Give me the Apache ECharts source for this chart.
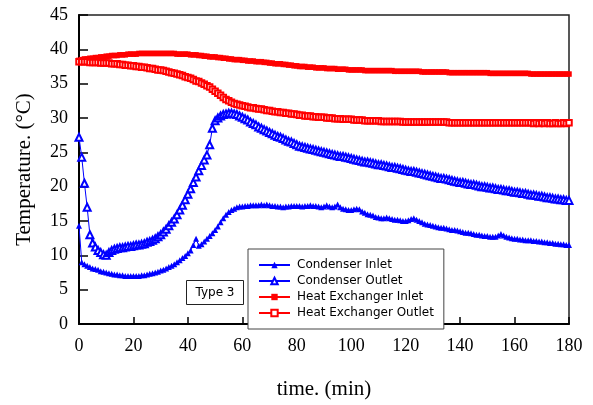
<!DOCTYPE html>
<html>
<head>
<meta charset="utf-8">
<script src="https://cdn.jsdelivr.net/npm/echarts@6/dist/echarts.min.js"></script>
<style>html,body{margin:0;padding:0;background:#fff}#c{width:593px;height:405px}</style>
</head>
<body>
<div id="c"></div>
<script>
// Time in minutes (1-minute sampling, 0..180)
const timeMin = Array.from({length: 181}, (_, i) => i);

const condenserInlet = [
14.3,9.0,8.7,8.5,8.3,8.1,8.0,7.9,7.7,7.6,
7.5,7.4,7.3,7.2,7.2,7.1,7.1,7.0,7.0,7.0,
7.0,7.0,7.0,7.1,7.1,7.2,7.3,7.4,7.5,7.6,
7.8,7.9,8.1,8.3,8.5,8.7,9.0,9.3,9.6,9.9,
10.3,10.7,11.5,12.4,11.4,11.6,12.0,12.4,12.8,13.2,
13.7,14.2,14.8,15.4,15.9,16.3,16.6,16.8,17.0,17.1,
17.1,17.2,17.2,17.3,17.3,17.3,17.3,17.4,17.3,17.4,
17.3,17.2,17.2,17.1,17.1,17.0,17.1,17.1,17.2,17.2,
17.2,17.2,17.1,17.2,17.2,17.3,17.2,17.2,17.1,17.0,
17.1,17.3,17.1,17.0,17.1,17.4,17.0,16.8,16.7,16.6,
16.6,16.7,16.8,16.7,16.4,16.2,16.0,15.9,15.8,15.6,
15.5,15.4,15.4,15.5,15.4,15.3,15.2,15.2,15.1,15.0,
15.0,15.1,15.3,15.4,15.2,15.0,14.8,14.6,14.5,14.4,
14.3,14.2,14.1,14.0,14.0,13.9,13.8,13.7,13.7,13.6,
13.5,13.4,13.3,13.3,13.2,13.1,13.0,13.0,12.9,12.8,
12.8,12.7,12.7,12.7,12.9,13.1,12.9,12.7,12.6,12.5,
12.4,12.4,12.3,12.3,12.2,12.2,12.2,12.1,12.1,12.0,
12.0,11.9,11.9,11.8,11.8,11.7,11.7,11.6,11.6,11.5,
11.5
];

const condenserOutlet = [
27.2,24.3,20.5,17.0,13.0,11.8,11.2,10.7,10.4,10.1,
10.0,10.4,10.7,10.9,11.0,11.1,11.1,11.2,11.3,11.3,
11.4,11.5,11.5,11.6,11.7,11.9,12.0,12.2,12.4,12.7,
13.0,13.4,13.8,14.3,14.8,15.3,15.9,16.6,17.3,18.1,
18.9,19.7,20.6,21.4,22.3,23.1,23.9,24.6,26.1,28.5,
29.6,30.0,30.3,30.5,30.6,30.7,30.7,30.6,30.5,30.3,
30.1,29.9,29.7,29.4,29.2,29.0,28.7,28.5,28.3,28.1,
27.9,27.7,27.5,27.3,27.2,27.0,26.8,26.6,26.5,26.3,
26.1,25.9,25.8,25.7,25.6,25.5,25.4,25.3,25.2,25.1,
25.0,24.9,24.8,24.7,24.6,24.5,24.4,24.4,24.3,24.2,
24.1,24.0,23.9,23.8,23.7,23.6,23.6,23.5,23.4,23.3,
23.2,23.2,23.1,23.0,22.9,22.8,22.8,22.7,22.6,22.5,
22.4,22.3,22.2,22.2,22.1,22.0,21.9,21.8,21.7,21.6,
21.5,21.4,21.3,21.2,21.2,21.1,21.0,20.9,20.8,20.7,
20.6,20.6,20.5,20.4,20.3,20.3,20.2,20.1,20.0,20.0,
19.9,19.8,19.8,19.7,19.6,19.6,19.5,19.4,19.4,19.3,
19.2,19.2,19.1,19.0,19.0,18.9,18.8,18.8,18.7,18.6,
18.6,18.5,18.4,18.4,18.3,18.2,18.2,18.1,18.1,18.0,
18.0
];

const heatExInlet = [
38.4,38.5,38.6,38.6,38.7,38.7,38.8,38.8,38.9,38.9,
39.0,39.0,39.1,39.1,39.1,39.2,39.2,39.2,39.3,39.3,
39.3,39.3,39.4,39.4,39.4,39.4,39.4,39.4,39.4,39.4,
39.4,39.4,39.4,39.4,39.4,39.4,39.3,39.3,39.3,39.3,
39.3,39.2,39.2,39.2,39.1,39.1,39.0,39.0,38.9,38.9,
38.9,38.8,38.8,38.7,38.7,38.6,38.6,38.5,38.5,38.5,
38.4,38.4,38.3,38.3,38.3,38.2,38.2,38.2,38.1,38.1,
38.0,38.0,37.9,37.9,37.9,37.8,37.8,37.7,37.7,37.6,
37.6,37.5,37.5,37.5,37.4,37.4,37.4,37.3,37.3,37.3,
37.3,37.2,37.2,37.2,37.2,37.1,37.1,37.1,37.1,37.0,
37.0,37.0,37.0,37.0,37.0,36.9,36.9,36.9,36.9,36.9,
36.9,36.9,36.9,36.9,36.9,36.9,36.8,36.8,36.8,36.8,
36.8,36.8,36.8,36.8,36.8,36.8,36.7,36.7,36.7,36.7,
36.7,36.7,36.7,36.7,36.7,36.7,36.6,36.6,36.6,36.6,
36.6,36.6,36.6,36.6,36.6,36.6,36.6,36.6,36.6,36.6,
36.6,36.5,36.5,36.5,36.5,36.5,36.5,36.5,36.5,36.5,
36.5,36.5,36.5,36.5,36.5,36.5,36.4,36.4,36.4,36.4,
36.4,36.4,36.4,36.4,36.4,36.4,36.4,36.4,36.4,36.4,
36.4
];

const heatExOutlet = [
38.2,38.2,38.2,38.2,38.1,38.1,38.1,38.1,38.0,38.0,
38.0,38.0,37.9,37.9,37.9,37.8,37.8,37.7,37.7,37.6,
37.6,37.5,37.5,37.4,37.4,37.3,37.2,37.2,37.1,37.0,
37.0,36.9,36.8,36.7,36.6,36.5,36.4,36.3,36.2,36.0,
35.9,35.8,35.6,35.4,35.3,35.1,34.9,34.7,34.5,34.2,
33.9,33.6,33.3,33.0,32.7,32.5,32.3,32.1,32.0,31.9,
31.8,31.7,31.6,31.5,31.5,31.4,31.3,31.3,31.2,31.1,
31.1,31.0,30.9,30.9,30.8,30.8,30.7,30.7,30.6,30.6,
30.5,30.4,30.4,30.3,30.3,30.3,30.2,30.2,30.1,30.1,
30.1,30.0,30.0,30.0,29.9,29.9,29.9,29.8,29.8,29.8,
29.8,29.7,29.7,29.7,29.7,29.6,29.6,29.6,29.6,29.6,
29.6,29.5,29.5,29.5,29.5,29.5,29.5,29.5,29.5,29.4,
29.4,29.4,29.4,29.4,29.4,29.4,29.4,29.4,29.4,29.4,
29.4,29.4,29.4,29.4,29.4,29.4,29.3,29.3,29.3,29.3,
29.3,29.3,29.3,29.3,29.3,29.3,29.3,29.3,29.3,29.3,
29.3,29.3,29.3,29.3,29.3,29.3,29.3,29.3,29.3,29.3,
29.3,29.3,29.3,29.3,29.3,29.3,29.3,29.2,29.3,29.2,
29.3,29.2,29.3,29.2,29.2,29.3,29.2,29.2,29.3,29.2,
29.3
];

const seriesNames = ['Condenser Inlet', 'Condenser Outlet', 'Heat Exchanger Inlet', 'Heat Exchanger Outlet'];
const xTicks = [0, 20, 40, 60, 80, 100, 120, 140, 160, 180];
const yTicks = [0, 5, 10, 15, 20, 25, 30, 35, 40, 45];
const annotation = 'Type 3';

const pairs = vals => vals.map((v, i) => [timeMin[i], v]);
const BLUE = '#0000ff', RED = '#ff0000';
const serif = 'Liberation Serif';

const chart = echarts.init(document.getElementById('c'), null, {renderer: 'canvas'});
chart.setOption({
  animation: false,
  backgroundColor: '#fff',
  grid: {left: 79, right: 24, top: 15, bottom: 68, show: true, borderColor: '#222', borderWidth: 1.5},
  xAxis: {
    type: 'value', min: xTicks[0], max: xTicks[xTicks.length - 1], interval: 20,
    name: 'time. (min)', nameLocation: 'middle', nameGap: 55,
    nameTextStyle: {fontFamily: serif, fontSize: 21, color: '#000'},
    axisLine: {show: true, lineStyle: {color: '#000', width: 2}},
    axisTick: {show: true, inside: true, length: 7, lineStyle: {color: '#000', width: 1.5}},
    axisLabel: {fontFamily: serif, fontSize: 18, color: '#000', margin: 13},
    splitLine: {show: false}
  },
  yAxis: {
    type: 'value', min: yTicks[0], max: yTicks[yTicks.length - 1], interval: 5,
    name: 'Temperature. (°C)', nameLocation: 'middle', nameGap: 44,
    nameTextStyle: {fontFamily: serif, fontSize: 21, color: '#000'},
    axisLine: {show: true, lineStyle: {color: '#000', width: 2}},
    axisTick: {show: true, inside: true, length: 9, lineStyle: {color: '#000', width: 1.5}},
    axisLabel: {fontFamily: serif, fontSize: 18, color: '#000', margin: 11},
    splitLine: {show: false}
  },
  legend: {
    orient: 'vertical', left: 248, top: 249,
    width: 196,
    padding: [8, 10, 8, 10],
    backgroundColor: '#fff', borderColor: '#444', borderWidth: 1,
    itemWidth: 31, itemHeight: 8, itemGap: 0,
    textStyle: {fontFamily: 'DejaVu Sans', fontSize: 12, color: '#000', lineHeight: 16, padding: [0, 0, 0, 2]},
    data: seriesNames
  },
  graphic: [{
    type: 'group', left: 186, top: 280,
    children: [
      {type: 'rect', shape: {x: 0, y: 0, width: 57, height: 24}, style: {fill: '#fff', stroke: '#222', lineWidth: 1}},
      {type: 'text', x: 28.5, y: 12, style: {text: annotation, fontFamily: 'DejaVu Sans', fontSize: 12, fill: '#000', align: 'center', verticalAlign: 'middle'}}
    ]
  }],
  series: [
    {name: seriesNames[0], type: 'line', data: pairs(condenserInlet), symbol: 'triangle', symbolSize: 6,
     showAllSymbol: true, lineStyle: {color: BLUE, width: 1}, itemStyle: {color: BLUE}, z: 3},
    {name: seriesNames[1], type: 'line', data: pairs(condenserOutlet), symbol: 'emptyTriangle', symbolSize: 7,
     showAllSymbol: true, lineStyle: {color: BLUE, width: 1}, itemStyle: {color: BLUE, borderColor: BLUE, borderWidth: 0.8}, z: 3},
    {name: seriesNames[2], type: 'line', data: pairs(heatExInlet), symbol: 'rect', symbolSize: 5.5,
     showAllSymbol: true, lineStyle: {color: RED, width: 1}, itemStyle: {color: RED}, z: 2},
    {name: seriesNames[3], type: 'line', data: pairs(heatExOutlet), symbol: 'emptyRect', symbolSize: 5.5,
     showAllSymbol: true, lineStyle: {color: RED, width: 1}, itemStyle: {color: RED, borderColor: RED, borderWidth: 0.8}, z: 2}
  ]
});
</script>
</body>
</html>
